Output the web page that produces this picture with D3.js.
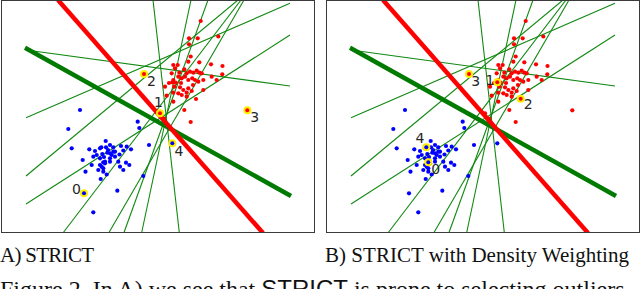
<!DOCTYPE html>
<html>
<head>
<meta charset="utf-8">
<script src="https://cdn.jsdelivr.net/npm/d3@7"></script>
<style>
  body { margin: 0; background: #fff; }
  svg { display: block; }
</style>
</head>
<body>
<div id="chart"></div>
<script>
// ---- data (same sample in both panels) ----
const redPoints = [
  [200.7,21],[218.3,36.5],[189,38.3],[197.7,38.3],[189,44.3],[190.7,56.5],[188.3,61.7],[199.3,62.3],
  [211,64.3],[222.5,66],[173.3,65],[177.7,65],[175,68.3],[179.3,72.7],[184.3,69.3],[186.7,73.3],
  [190,71.7],[193.3,72.7],[196.7,70.7],[199.3,72.7],[201.7,73.3],[171.7,73.3],[173.3,80],[175.7,82.7],
  [178.3,76.7],[181.7,78.3],[185,76.7],[188.3,80],[192.3,78.3],[195,80],[198.3,81.7],[203.3,80],
  [211.7,76.7],[222.3,74.3],[216.7,80],[165,86.7],[174.3,86.7],[180,87.3],[183.3,90],[188.3,88.3],
  [191.7,91],[203.3,90],[173.3,92.7],[178.3,93.3],[181.7,95],[186.7,92.7],[166.7,95.7],[173.3,101.7],
  [186.7,96.7],[196,99],[184.3,110],[190.7,122],[160,113.3],[164,118.5],[247.3,110.3],[144,74],
  [172.3,82.3],[181,83],[193,85],[169,83]
];
const bluePoints = [
  [80,110],[68.3,129],[137.7,121.7],[139.3,128],[149,145],[71.7,148.3],[89.3,149.3],[95,151],
  [100,148.3],[105.7,141],[110,145],[106,147.3],[113.3,147.3],[121,146],[126.7,146.7],[131,149.3],
  [123.3,150.5],[119.5,154.5],[82.7,160],[93.3,156.7],[91.7,165],[100,158.3],[102.3,154],[107.3,152.7],
  [111.7,155],[115,151.7],[110,158.3],[105,161.7],[100,165],[103.3,168.3],[106.7,174.5],[100.7,179],
  [98.3,170],[118.3,161.7],[120,166.7],[126,162.7],[129.3,165],[123.3,170],[85.5,171.7],[143.3,176],
  [117.3,190.7],[93.3,212.3],[84,193.3],[172.3,143.3],[96.7,155],[110,153.3],[113.3,151.7],[115,156.7],
  [110,161.7],[105,163.3],[101.7,166.7],[103.3,171.7],[101.3,147.3],[103.3,162.3],[108,150],[104,157]
];
// candidate lines [x1, y1, x2, y2]
const candidateLines = [
  [26,117.7,290,3.3],[26,50,290,86],[26,176,238,0],[26,204,290,35],
  [63.3,232.5,241,0],[109,232.5,244,0],[124,232.5,208,0],[141.7,232.5,191,0],[179.3,232.5,153,0]
];
const bestLine = [25,47.7,291,196];     // thick green
const trueLine = [58,0,263,233];        // thick red

// selected samples per panel: [label, x, y, class]
const selectedA = [[0,84,193.3,'b'],[1,160,113.3,'r'],[2,144,74,'r'],[3,247.3,110.3,'r'],[4,172.3,143.3,'b']];
const selectedB = [[3,144,74,'r'],[1,172.3,82.3,'r'],[2,195.7,98.7,'r'],[4,101.3,147.3,'b'],[0,103.3,162.3,'b']];
// label offsets from the point (px)
const labelOffA = [[-7.5,-4.5],[-1.5,-11.5],[7.5,7],[7.5,7],[6.7,7.7]];
const labelOffB = [[6.7,7],[-7.3,-2.3],[7.6,5.6],[-6.3,-9],[7.4,7]];

const captions = ['A) STRICT', 'B) STRICT with Density Weighting'];
const captionWidths = [94, 304];

// ---- layout ----
const W = 640, H = 289;
const panelW = 313, panelH = 232;
const colors = { r: '#ff0000', b: '#0000ff' };

const svg = d3.select('#chart').append('svg')
  .attr('width', W).attr('height', H);

const x = d3.scaleLinear().domain([1, 314]).range([0, panelW]);
const y = d3.scaleLinear().domain([0.5, 232.5]).range([0.5, panelH + 0.5]);

const panels = [
  { left: 1, sel: selectedA, off: labelOffA },
  { left: 326, sel: selectedB, off: labelOffB }
];

panels.forEach((p, i) => {
  const g = svg.append('g').attr('transform', `translate(${p.left},0)`);

  g.append('clipPath').attr('id', 'clip' + i)
    .append('rect').attr('x', 0.5).attr('y', 0.5)
    .attr('width', panelW).attr('height', panelH);

  const plot = g.append('g').attr('clip-path', `url(#clip${i})`);

  plot.selectAll('.cand').data(candidateLines).enter().append('line')
    .attr('x1', d => x(d[0])).attr('y1', d => y(d[1]))
    .attr('x2', d => x(d[2])).attr('y2', d => y(d[3]))
    .attr('stroke', '#118811').attr('stroke-width', 1.1);

  plot.append('line')
    .attr('x1', x(bestLine[0])).attr('y1', y(bestLine[1]))
    .attr('x2', x(bestLine[2])).attr('y2', y(bestLine[3]))
    .attr('stroke', '#007a00').attr('stroke-width', 4.5);

  plot.append('line')
    .attr('x1', x(trueLine[0])).attr('y1', y(trueLine[1]))
    .attr('x2', x(trueLine[2])).attr('y2', y(trueLine[3]))
    .attr('stroke', '#ff0000').attr('stroke-width', 4.5);

  plot.selectAll('.blue').data(bluePoints).enter().append('circle')
    .attr('cx', d => x(d[0])).attr('cy', d => y(d[1])).attr('r', 2.1)
    .attr('fill', colors.b);

  plot.selectAll('.red').data(redPoints).enter().append('circle')
    .attr('cx', d => x(d[0])).attr('cy', d => y(d[1])).attr('r', 2.1)
    .attr('fill', colors.r);

  // highlighted samples
  p.sel.forEach((s, k) => {
    plot.append('circle').attr('cx', x(s[1])).attr('cy', y(s[2])).attr('r', 4)
      .attr('fill', '#ffee00');
    plot.append('circle').attr('cx', x(s[1])).attr('cy', y(s[2])).attr('r', 2)
      .attr('fill', colors[s[3]]);
    plot.append('text')
      .attr('x', x(s[1]) + p.off[k][0]).attr('y', y(s[2]) + p.off[k][1])
      .attr('dy', '0.36em')
      .attr('text-anchor', 'middle')
      .attr('font-family', 'DejaVu Sans, sans-serif')
      .attr('font-size', '14px')
      .attr('fill', '#262626')
      .text(s[0]);
  });

  g.append('rect').attr('x', 0.5).attr('y', 0.5)
    .attr('width', panelW).attr('height', panelH)
    .attr('fill', 'none').attr('stroke', '#3a3a3a').attr('stroke-width', 1);

  svg.append('text')
    .attr('x', p.left - 1).attr('y', 262)
    .attr('font-family', 'Liberation Serif, Times New Roman, serif')
    .attr('font-size', '21px')
    .attr('textLength', captionWidths[i])
    .attr('fill', '#111')
    .text(captions[i]);
});

// figure caption (cut off at the bottom in the source)
const fig = svg.append('text')
  .attr('x', 0).attr('y', 297)
  .attr('font-family', 'Liberation Serif, Times New Roman, serif')
  .attr('font-size', '24px')
  .attr('fill', '#111');
fig.append('tspan').text('Figure 2. In A) we see that ');
fig.append('tspan').attr('font-family', 'Liberation Sans, Arial, sans-serif').text('STRICT');
fig.append('tspan').text(' is prone to selecting outliers.');
</script>
</body>
</html>
